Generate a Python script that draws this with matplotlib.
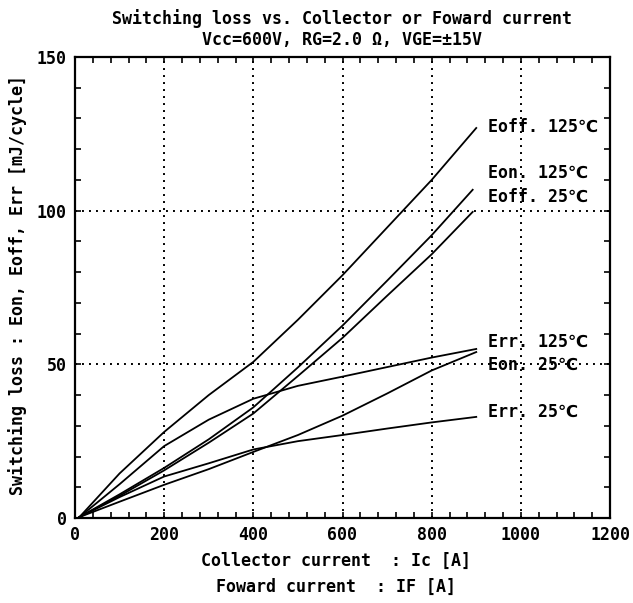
import matplotlib
matplotlib.use("Agg")
import matplotlib.pyplot as plt
from matplotlib.ticker import MultipleLocator

# ---- data ----
series_names = ["Eoff. 125℃", "Eon. 125℃", "Eoff. 25℃", "Err. 125℃", "Eon. 25℃", "Err. 25℃"]

x_eoff125 = [10, 100, 200, 300, 400, 500, 600, 700, 800, 900]
y_eoff125 = [0.3, 14.5, 28.0, 40.0, 50.8, 64.5, 79.0, 94.5, 110.0, 126.9]

x_eon125 = [10, 100, 200, 300, 400, 500, 600, 700, 800, 892]
y_eon125 = [0.3, 7.7, 16.3, 25.6, 36.0, 49.0, 62.6, 77.2, 92.0, 106.8]

x_eoff25 = [10, 100, 200, 300, 400, 500, 600, 700, 800, 892]
y_eoff25 = [0.3, 7.2, 15.5, 24.5, 34.0, 46.2, 58.6, 72.3, 85.8, 99.6]

x_err125 = [10, 100, 200, 300, 400, 500, 600, 700, 800, 900]
y_err125 = [0.3, 11.0, 23.4, 32.0, 38.8, 43.0, 46.0, 49.1, 52.2, 55.0]

x_eon25 = [10, 100, 200, 300, 400, 500, 600, 700, 800, 900]
y_eon25 = [0.3, 5.3, 10.8, 15.9, 21.5, 27.0, 33.3, 40.5, 48.0, 54.0]

x_err25 = [10, 100, 200, 300, 400, 500, 600, 700, 800, 900]
y_err25 = [0.3, 6.8, 13.5, 17.8, 22.3, 25.0, 27.0, 29.1, 31.1, 32.9]

label_x = 926
label_y = [127.2, 112.3, 104.5, 57.3, 49.8, 34.5]

x_ticks = [0, 200, 400, 600, 800, 1000, 1200]
y_ticks = [0, 50, 100, 150]

title1 = "Switching loss vs. Collector or Foward current"
title2 = "Vcc=600V, RG=2.0 Ω, VGE=±15V"
xlabel = "Collector current  : Ic [A]\nFoward current  : IF [A]"
ylabel = "Switching loss : Eon, Eoff, Err [mJ/cycle]"

# ---- style ----
FAM = ["DejaVu Sans Mono", "DejaVu Sans"]
plt.rcParams["font.family"] = FAM
plt.rcParams["font.size"] = 12
plt.rcParams["font.weight"] = "bold"

W, H = 633, 603
fig = plt.figure(figsize=(W / 100, H / 100), dpi=100)
ax = fig.add_axes([75 / W, (H - 518) / H, 535 / W, 461 / H])

xs = [x_eoff125, x_eon125, x_eoff25, x_err125, x_eon25, x_err25]
ys = [y_eoff125, y_eon125, y_eoff25, y_err125, y_eon25, y_err25]
for xv, yv in zip(xs, ys):
    ax.plot(xv, yv, color="black", lw=1.3, solid_joinstyle="round")

for name, ly in zip(series_names, label_y):
    ax.text(label_x, ly, name, ha="left", va="center", fontsize=12, family=FAM,
            fontweight="bold")

ax.set_xlim(0, 1200)
ax.set_ylim(0, 150)
ax.set_xticks(x_ticks)
ax.set_yticks(y_ticks)
ax.xaxis.set_minor_locator(MultipleLocator(40))
ax.yaxis.set_minor_locator(MultipleLocator(10))
ax.tick_params(which="both", direction="in", top=True, right=True, color="black",
               width=1.2)
ax.tick_params(which="major", length=4, labelsize=12, pad=6)
ax.tick_params(which="minor", length=4)
for lab in ax.get_xticklabels() + ax.get_yticklabels():
    lab.set_fontweight("bold")

ax.grid(True, which="major", color="black", linestyle=(0, (1, 2.6)), linewidth=1.4)
for s in ax.spines.values():
    s.set_linewidth(1.6)
    s.set_color("black")

fig.text(342 / W, 1 - 19 / H, title1, ha="center", va="center", fontsize=12,
         family=FAM, fontweight="bold")
fig.text(342 / W, 1 - 40 / H, title2, ha="center", va="center", fontsize=12,
         family=FAM, fontweight="bold")
fig.text(336 / W, 1 - 574 / H, xlabel, ha="center", va="center", fontsize=12,
         family=FAM, linespacing=1.6, fontweight="bold")
fig.text(18 / W, 1 - 285 / H, ylabel, ha="center", va="center", rotation=90,
         fontsize=12, family=FAM, fontweight="bold")

fig.savefig("out.png", dpi=100)
